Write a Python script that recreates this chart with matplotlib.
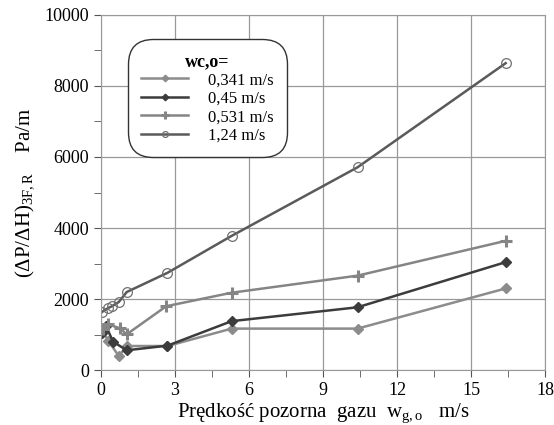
import matplotlib.pyplot as plt
from matplotlib.ticker import MultipleLocator

plt.rcParams['font.family'] = ['Liberation Serif', 'DejaVu Serif']
plt.rcParams['mathtext.fontset'] = 'custom'
plt.rcParams['mathtext.rm'] = 'Liberation Serif'
plt.rcParams['mathtext.it'] = 'Liberation Serif:italic'

# Dane
x_341 = [0.08, 0.3, 0.73, 1.05, 2.7, 5.3, 10.4, 16.4]
y_341 = [1100, 820, 400, 680, 680, 1170, 1170, 2300]

x_45 = [0.05, 0.2, 0.5, 1.05, 2.7, 5.3, 10.4, 16.4]
y_45 = [1050, 1250, 800, 560, 690, 1380, 1770, 3040]

x_531 = [0.1, 0.3, 0.77, 1.05, 2.65, 5.3, 10.4, 16.4]
y_531 = [1150, 1290, 1180, 1010, 1800, 2180, 2660, 3640]

x_124 = [0.05, 0.3, 0.45, 0.73, 1.05, 2.7, 5.3, 10.4, 16.4]
y_124 = [1640, 1750, 1800, 1920, 2200, 2740, 3780, 5710, 8640]

labels = ["0,341 m/s", "0,45 m/s", "0,531 m/s", "1,24 m/s"]

fig = plt.figure(figsize=(5.54, 4.25), dpi=100)
ax = fig.add_axes([0.182, 0.129, 0.802, 0.836])

ax.plot(x_341, y_341, color='#8c8c8c', lw=1.8, marker='D', ms=5.5, label=labels[0])
ax.plot(x_45, y_45, color='#3c3c3c', lw=1.8, marker='D', ms=5.5, label=labels[1])
ax.plot(x_531, y_531, color='#858585', lw=1.8, marker='+', ms=9, mew=2.2, label=labels[2])
ax.plot(x_124, y_124, color='#5a5a5a', lw=1.8, marker='o', ms=7, mfc='none',
        mec='#707070', mew=0.9, label=labels[3])

ax.set_xlim(0, 18)
ax.set_ylim(0, 10000)
ax.xaxis.set_major_locator(MultipleLocator(3))
ax.xaxis.set_minor_locator(MultipleLocator(1.5))
ax.yaxis.set_major_locator(MultipleLocator(2000))
ax.yaxis.set_minor_locator(MultipleLocator(1000))
ax.tick_params(which='both', direction='out', length=5, color='#555555', labelsize=13)
ax.grid(True, which='major', color='#999999', lw=0.9)
ax.set_axisbelow(True)
for s in ax.spines.values():
    s.set_color('#999999')

ax.set_xlabel("Prędkość pozorna  gazu  w$_{\\mathrm{g,o}}$   m/s", fontsize=15, labelpad=2)
ax.set_ylabel("(ΔP/ΔH)$_{\\mathrm{3F,R}}$    Pa/m", fontsize=15, labelpad=6)

leg = ax.legend(loc='upper left', bbox_to_anchor=(0.05, 0.945), title="wc,o=",
                fontsize=12, title_fontproperties={'weight': 'bold', 'size': 13},
                fancybox=True, edgecolor='#333333', framealpha=1,
                handlelength=2.8, handletextpad=1.2, markerscale=0.6,
                borderpad=0.6, labelspacing=0.15)
leg.get_frame().set_boxstyle('round,pad=0.2,rounding_size=1.5')

fig.savefig("out.png", dpi=100)
